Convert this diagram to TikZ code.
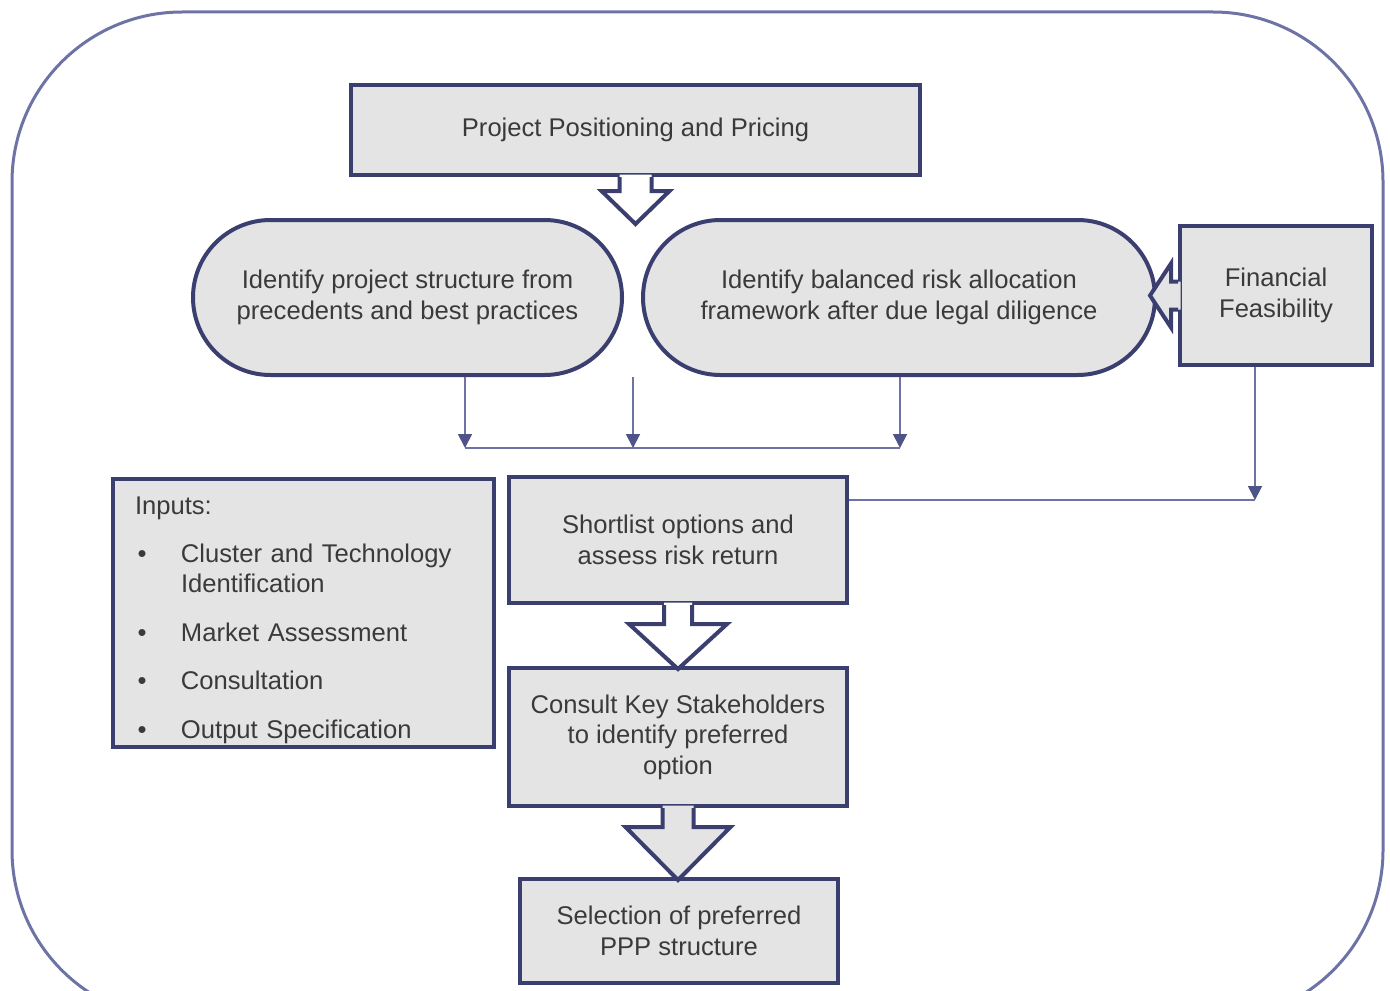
\documentclass[tikz,border=0pt]{standalone}
\usepackage{fontspec}
\setmainfont{Liberation Sans}
\usetikzlibrary{calc,arrows.meta,shapes.misc}
\definecolor{boxgrey}{HTML}{E4E4E4}
\definecolor{navy}{HTML}{3B3F70}
\definecolor{linkblue}{HTML}{6E73A6}
\definecolor{tipblue}{HTML}{4E5389}
\definecolor{txt}{HTML}{3A3A3A}

\begin{document}
\begin{tikzpicture}[x=0.5pt,y=-0.5pt,font=\fontsize{12.8}{15.2}\selectfont,text=txt,
  box/.style={draw=navy,line width=2pt,fill=boxgrey,align=center,inner sep=0pt},
  pill/.style={box,rounded rectangle},
  link/.style={draw=linkblue,line width=0.9pt},
  tip/.style={-{Triangle[length=7pt,width=7pt,color=tipblue]}}]

\useasboundingbox (0,0) rectangle (1390,990);
\clip (0,0) rectangle (1390,990);
\draw[linkblue,line width=1.5pt,rounded corners=85pt] (12,12) rectangle (1383,1020);

\node[box,minimum width=284.5pt,minimum height=45pt] (ppp) at (635.5,130) {Project Positioning and Pricing};
\node[pill,minimum width=214.5pt,minimum height=77.5pt] (struct) at (407.5,297.5) {Identify project structure from\\precedents and best practices};
\node[pill,minimum width=256pt,minimum height=77.5pt] (risk) at (899,297.5) {Identify balanced risk allocation\\framework after due legal diligence};
\node[box,minimum width=96pt,minimum height=69.5pt] (fin) at (1276,295.5) {Financial\\Feasibility};
\node[box,minimum width=169pt,minimum height=63pt] (short) at (678,540) {Shortlist options and\\assess risk return};
\node[box,minimum width=169pt,minimum height=69pt] (consult) at (678,737) {Consult Key Stakeholders\\to identify preferred\\option};
\node[box,minimum width=159pt,minimum height=52pt] (select) at (679,931) {Selection of preferred\\PPP structure};
\node[box,anchor=north west,text width=168.5pt,inner xsep=11pt,minimum height=134pt,align=left] (inputs) at (111,477) {%
\begin{tabular}{@{}p{23pt}@{}l@{}}
\multicolumn{2}{@{}l@{}}{\rule{0pt}{17.5pt}Inputs:}\\[9pt]
\hspace*{1.3pt}\textbullet & Cluster and Technology\\
 & Identification\\[9pt]
\hspace*{1.3pt}\textbullet & Market Assessment\\[9pt]
\hspace*{1.3pt}\textbullet & Consultation\\[9pt]
\hspace*{1.3pt}\textbullet & Output Specification
\end{tabular}};

% block arrows
\foreach \n/\s/\h/\m/\t/\c in {ppp/16/34/14/47/white,short/14/49/19/64/white,consult/15.5/52.5/19/72/boxgrey}{%
\begin{scope}[shift={(\n.south)}]
\fill[\c] (-\s,-2.5) -- (-\s,\m) -- (-\h,\m) -- (0,\t) -- (\h,\m) -- (\s,\m) -- (\s,-2.5) -- cycle;
\draw[navy,line width=2pt] (-\s,0) -- (-\s,\m) -- (-\h,\m) -- (0,\t) -- (\h,\m) -- (\s,\m) -- (\s,0);
\end{scope}
}
\begin{scope}[shift={(fin.west)}]
\fill[boxgrey] (2.5,-14) -- (-7,-14) -- (-7,-32) -- (-28,0) -- (-7,32) -- (-7,14) -- (2.5,14) -- cycle;
\draw[navy,line width=2pt] (0,-14) -- (-7,-14) -- (-7,-32) -- (-28,0) -- (-7,32) -- (-7,14) -- (0,14);
\end{scope}

% connectors
\coordinate (busl) at (465,448);
\coordinate (busr) at (900,448);
\coordinate (gap) at (633,377);
\coordinate (fbus) at (1255,500);
\draw[link] (busl) -- (busr);
\draw[link,tip] (struct.south -| busl) -- (busl);
\draw[link,tip] (gap) -- (gap |- busl);
\draw[link,tip] (risk.south -| busr) -- (busr);
\draw[link] (short.east |- fbus) -- (fbus);
\draw[link,tip] (fin.south -| fbus) -- (fbus);

\end{tikzpicture}
\end{document}
